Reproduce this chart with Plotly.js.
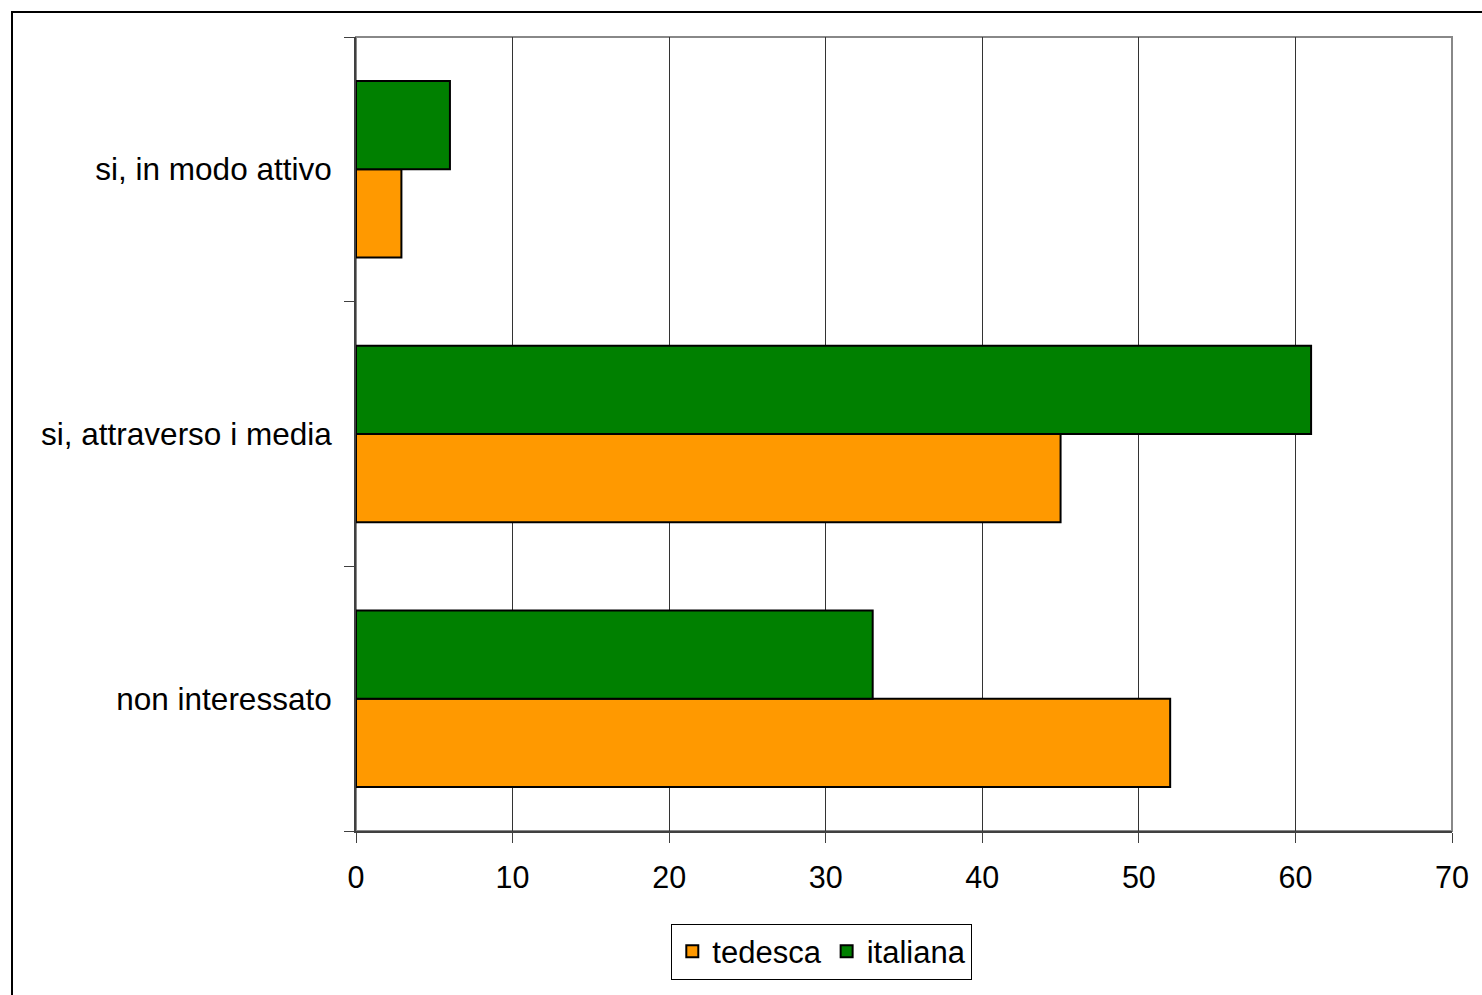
<!DOCTYPE html>
<html>
<head>
<meta charset="utf-8">
<script src="https://cdn.plot.ly/plotly-3.0.1.min.js"></script>
<style>
  html, body { margin: 0; padding: 0; overflow: hidden; background: #fff; }
  #chart { position: absolute; left: 0; top: 0; width: 1482px; height: 995px; }
  #frame { position: absolute; left: 11px; top: 11px; width: 3000px; height: 3000px;
           border: 2px solid #000; pointer-events: none; }
</style>
</head>
<body>
<div id="chart"></div>
<div id="frame"></div>
<script>
// Categories, listed top to bottom as in the chart
const categories = ["si, in modo attivo", "si, attraverso i media", "non interessato"];
const seriesNames = ["tedesca", "italiana"];
const tedesca = [2.9, 45, 52];
const italiana = [6, 61, 33];
const xTicks = [0, 10, 20, 30, 40, 50, 60, 70];

const FONT = "'Liberation Sans', Arial, sans-serif";

const traces = [
  {
    type: 'bar', orientation: 'h', name: seriesNames[0],
    y: categories, x: tedesca,
    marker: { color: '#FF9900', line: { color: '#000000', width: 2 } },
    hoverinfo: 'skip'
  },
  {
    type: 'bar', orientation: 'h', name: seriesNames[1],
    y: categories, x: italiana,
    marker: { color: '#008000', line: { color: '#000000', width: 2 } },
    hoverinfo: 'skip'
  }
];

const layout = {
  width: 1482, height: 995,
  margin: { l: 356, r: 30, t: 37, b: 164, pad: 0 },
  paper_bgcolor: 'rgba(0,0,0,0)',
  plot_bgcolor: '#ffffff',
  font: { family: FONT, size: 30, color: '#000000' },
  barmode: 'group',
  bargap: 1/3,
  bargroupgap: 0,
  showlegend: true,
  legend: {
    orientation: 'h',
    x: 0.425, xanchor: 'center',
    y: -0.152, yanchor: 'middle',
    bgcolor: '#ffffff',
    bordercolor: '#000000', borderwidth: 1,
    font: { family: FONT, size: 31, color: '#000000' },
    traceorder: 'normal',
    itemwidth: 30
  },
  xaxis: {
    range: [0, 70],
    tickvals: xTicks,
    ticktext: xTicks.map(String),
    showgrid: true, gridcolor: '#333333', gridwidth: 1,
    zeroline: false,
    showline: true, linecolor: '#404040', linewidth: 2,
    ticks: 'outside', ticklen: 10, tickwidth: 1, tickcolor: '#404040',
    ticklabelstandoff: 8,
    tickfont: { family: FONT, size: 30.5, color: '#000000' },
    fixedrange: true
  },
  yaxis: {
    type: 'category',
    categoryorder: 'array',
    categoryarray: categories.slice().reverse(),
    showgrid: false, zeroline: false,
    showline: true, linecolor: '#404040', linewidth: 2,
    ticks: 'outside', ticklen: 10, tickwidth: 1, tickcolor: '#404040',
    tickson: 'boundaries',
    ticklabelstandoff: 16,
    tickfont: { family: FONT, size: 31.5, color: '#000000' },
    fixedrange: true
  },
  shapes: [
    { type: 'rect', xref: 'paper', yref: 'paper', x0: 0, x1: 1, y0: 0, y1: 1,
      line: { color: '#888888', width: 2 }, layer: 'below' }
  ]
};

Plotly.newPlot('chart', traces, layout, { displayModeBar: false, staticPlot: true });
</script>
</body>
</html>
